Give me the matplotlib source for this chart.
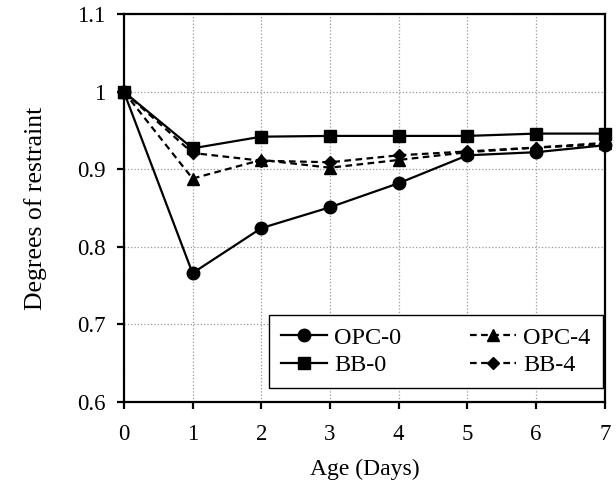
import numpy as np
import matplotlib
matplotlib.use('Agg')
import matplotlib.pyplot as plt

plt.rcParams['font.family'] = ['Liberation Serif', 'DejaVu Serif']

age = [0, 1, 2, 3, 4, 5, 6, 7]
opc0 = [1.0, 0.766, 0.824, 0.851, 0.882, 0.918, 0.922, 0.931]
opc4 = [1.0, 0.888, 0.912, 0.902, 0.912, 0.922, 0.928, 0.934]
bb0 = [1.0, 0.927, 0.942, 0.943, 0.943, 0.943, 0.946, 0.946]
bb4 = [1.0, 0.921, 0.911, 0.909, 0.918, 0.923, 0.928, 0.932]

fig = plt.figure(figsize=(6.16, 4.9), dpi=100)
ax = fig.add_axes([0.201, 0.180, 0.781, 0.791])

h1, = ax.plot(age, opc0, '-o', color='black', lw=1.6, ms=9, label='OPC-0', clip_on=False, zorder=3)
h2, = ax.plot(age, opc4, '--^', color='black', lw=1.6, ms=9, label='OPC-4', clip_on=False, zorder=3,
              dashes=(3, 2))
h3, = ax.plot(age, bb0, '-s', color='black', lw=1.6, ms=9, label='BB-0', clip_on=False, zorder=3)
h4, = ax.plot(age, bb4, '--D', color='black', lw=1.6, ms=6.5, label='BB-4', clip_on=False, zorder=3,
              dashes=(3, 2))

ax.set_xlim(0, 7)
ax.set_ylim(0.6, 1.1)
ax.set_xticks(age)
ax.set_yticks([0.6, 0.7, 0.8, 0.9, 1.0, 1.1])
ax.set_yticklabels(['0.6', '0.7', '0.8', '0.9', '1', '1.1'])
ax.grid(True, color='#999999', linestyle=':', linewidth=0.9)
ax.set_axisbelow(True)
for s in ax.spines.values():
    s.set_linewidth(1.6)
ax.tick_params(axis='y', direction='out', length=5, width=1.6, labelsize=16.5, pad=8)
ax.tick_params(axis='x', direction='out', length=5, width=1.6, labelsize=16.5, pad=11)

ax.set_xlabel('Age (Days)', fontsize=17, labelpad=10)
ax.set_ylabel('Degrees of restraint', fontsize=18.5, labelpad=22)

leg = ax.legend([h1, h3, h2, h4], ['OPC-0', 'BB-0', 'OPC-4', 'BB-4'], ncol=2,
                loc='lower right', bbox_to_anchor=(0.995, 0.035), borderaxespad=0,
                fontsize=17.5, frameon=True, fancybox=False, edgecolor='black',
                framealpha=1, handlelength=1.9, handletextpad=0.3, columnspacing=2.8,
                borderpad=0.5, labelspacing=0.22)
leg.get_frame().set_linewidth(1.0)

fig.savefig('out.png', dpi=100)
